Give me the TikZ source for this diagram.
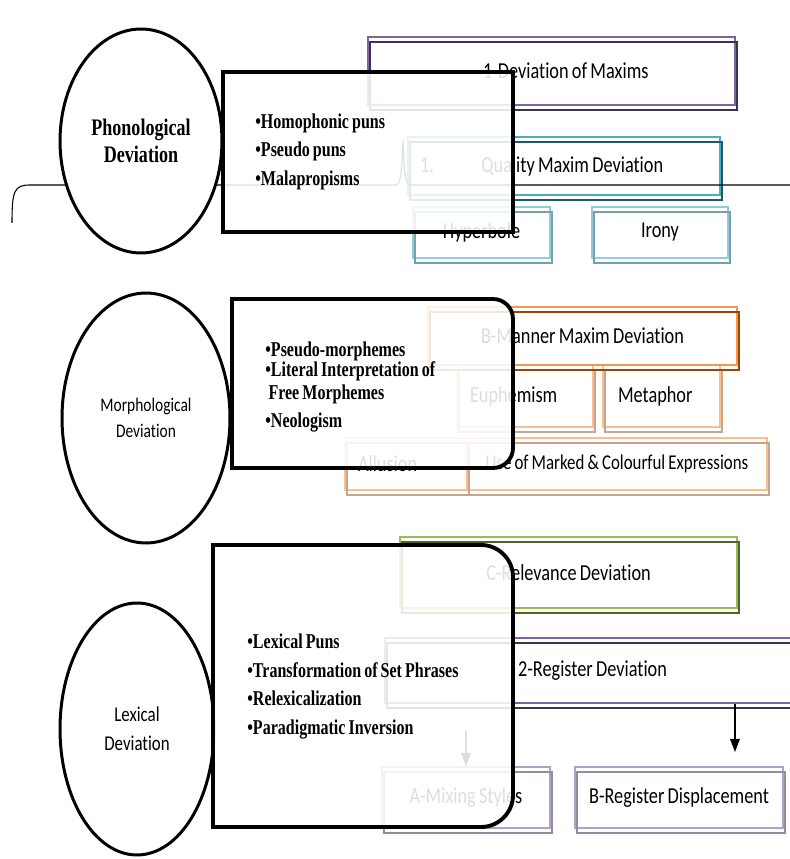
\documentclass[tikz,border=0pt]{standalone}
\usepackage{fontspec}
\usetikzlibrary{shapes.geometric,arrows.meta}
\newfontfamily\boxfont{Carlito}[FakeStretch=0.8, WordSpace=0.8, Ligatures=NoCommon]
\newfontfamily\listfont{Liberation Serif}[FakeStretch=0.76, WordSpace=0.76]

\definecolor{purpA}{RGB}{128,100,162}
\definecolor{purpD}{RGB}{64,49,81}
\definecolor{purpL}{RGB}{178,161,199}
\definecolor{purpG}{RGB}{150,140,160}
\definecolor{tealA}{RGB}{75,172,198}
\definecolor{tealD}{RGB}{33,89,104}
\definecolor{tealL}{RGB}{146,205,220}
\definecolor{tealG}{RGB}{120,160,170}
\definecolor{orngA}{RGB}{247,150,70}
\definecolor{orngD}{RGB}{152,72,6}
\definecolor{orngL}{RGB}{250,191,143}
\definecolor{orngG}{RGB}{195,165,145}
\definecolor{grnA}{RGB}{155,187,89}
\definecolor{grnD}{RGB}{79,98,40}

\tikzset{
  mbox/.style 2 args={draw=#1, fill=white, line width=1.1pt, inner sep=0pt,
    font=\boxfont\fontsize{13}{15}\selectfont,
    postaction={draw=#2, line width=1.1pt, transform canvas={shift={(0.04cm,-0.1cm)}}}},
  ltext/.style={align=flush left, text width=#1},
  oval/.style={ellipse, draw, line width=1.7pt, fill=white, align=center, inner sep=0pt},
  frame/.style={draw, line width=2.2pt, fill=white, fill opacity=0.87},
  arr/.style={-{Triangle[width=5.5pt,length=7.5pt]}, line width=0.8pt},
  bullets/.style={anchor=west, inner sep=0pt, align=left,
    font=\listfont\bfseries\fontsize{12}{16.2}\selectfont},
}

\begin{document}
\begin{tikzpicture}[x=0.02cm, y=0.02cm]
  \useasboundingbox (0,0) rectangle (790,859);
  \clip (0,0) rectangle (790,859);

  % maxims
  \node[mbox={purpA}{purpD}, minimum width=7.34cm, minimum height=1.36cm, ltext=7.14cm] (maxims) at (551.5,788) {\hspace*{2.2cm}1-Deviation of Maxims};
  \node[mbox={tealA}{tealD}, minimum width=6.24cm, minimum height=1.16cm, ltext=5.76cm] (quality) at (564,693) {1.\hspace{0.95cm}Quality Maxim Deviation};
  \node[mbox={tealL}{tealG}, minimum width=2.74cm, minimum height=1.02cm] (hyper) at (481.5,626.5) {Hyperbole};
  \node[mbox={tealL}{tealG}, minimum width=2.72cm, minimum height=1.02cm] (irony) at (660,626.5) {Irony};

  \node[mbox={orngL}{orngG}, minimum width=2.72cm, minimum height=1.24cm, ltext=2.2cm] (euph) at (525,463) {Euphemism};
  \node[mbox={orngL}{orngG}, minimum width=2.34cm, minimum height=1.24cm, ltext=1.74cm] (meta) at (661.5,463) {Metaphor};
  \node[mbox={orngA}{orngD}, minimum width=6.18cm, minimum height=1.16cm] (manner) at (582.5,523) {B-Manner Maxim Deviation};
  \node[mbox={orngL}{orngG}, minimum width=2.44cm, minimum height=1.04cm, ltext=1.92cm] (allu) at (406,395) {Allusion};
  \node[mbox={orngL}{orngG}, minimum width=6.0cm, minimum height=1.04cm, font=\boxfont\fontsize{12}{14}\selectfont] (marked) at (617,395) {Use of Marked \& Colourful Expressions};

  \node[mbox={grnA}{grnD}, minimum width=6.74cm, minimum height=1.42cm] (relev) at (568.5,286.5) {C-Relevance Deviation};

  % register
  \node[mbox={purpA}{purpD}, minimum width=8.3cm, minimum height=1.3cm] (register) at (592.5,188.5) {2-Register Deviation};
  \node[mbox={purpL}{purpG}, minimum width=3.36cm, minimum height=1.22cm] (mixing) at (466,61.5) {A-Mixing Styles};
  \node[mbox={purpL}{purpG}, minimum width=4.16cm, minimum height=1.22cm] (displace) at (679,61.5) {B-Register Displacement};

  \coordinate (dtop) at ([xshift=1.12cm]displace.north);
  \draw[arr, shorten >=0.28cm] (register.south -| dtop) -- (dtop);
  \draw[arr, shorten <=0.54cm] (register.south -| mixing.north) -- (mixing.north);

  % brace
  \draw[line width=0.6pt] (12,636) .. controls (12,668) and (14,674) .. (30,674) -- (396,674) .. controls (401,674) and (402,690) .. (403,719) .. controls (404,690) and (405,674) .. (410,674) -- (800,674);

  % levels
  \node[oval, minimum width=3.24cm, minimum height=4.48cm, font=\listfont\bfseries\fontsize{13.5}{15.3}\selectfont] (phon) at (141,718) {Phonological\\Deviation};
  \node[oval, minimum width=3.36cm, minimum height=5.0cm, font=\boxfont\fontsize{11}{14.7}\selectfont] (morph) at (146,441) {Morphological\\Deviation};
  \node[oval, minimum width=3.08cm, minimum height=5.04cm, font=\boxfont\fontsize{12}{16.4}\selectfont] (lex) at (137,130) {Lexical\\Deviation};

  \draw[frame] (223,627) rectangle (513,787);
  \draw[frame] (232,391) -- (232,560) -- (493,560) arc[start angle=90, end angle=0, radius=20] -- (513,411) arc[start angle=0, end angle=-90, radius=20] -- cycle;
  \draw[frame] (213,32) -- (213,314) -- (481,314) arc[start angle=90, end angle=0, radius=32] -- (513,64) arc[start angle=0, end angle=-90, radius=32] -- cycle;

  \node[bullets] (phonlist) at (255,707.5) {•Homophonic puns\\•Pseudo puns\\•Malapropisms};
  \node[bullets, font=\listfont\bfseries\fontsize{12}{13}\selectfont] (morphlist) at (265,472) {•Pseudo-morphemes\\[-1.7pt]•Literal Interpretation of\\\hspace*{0.15em}Free Morphemes\\[2.9pt]•Neologism};
  \node[bullets] (lexlist) at (247,172.5) {•Lexical Puns\\•Transformation of Set Phrases\\•Relexicalization\\•Paradigmatic Inversion};
\end{tikzpicture}
\end{document}
